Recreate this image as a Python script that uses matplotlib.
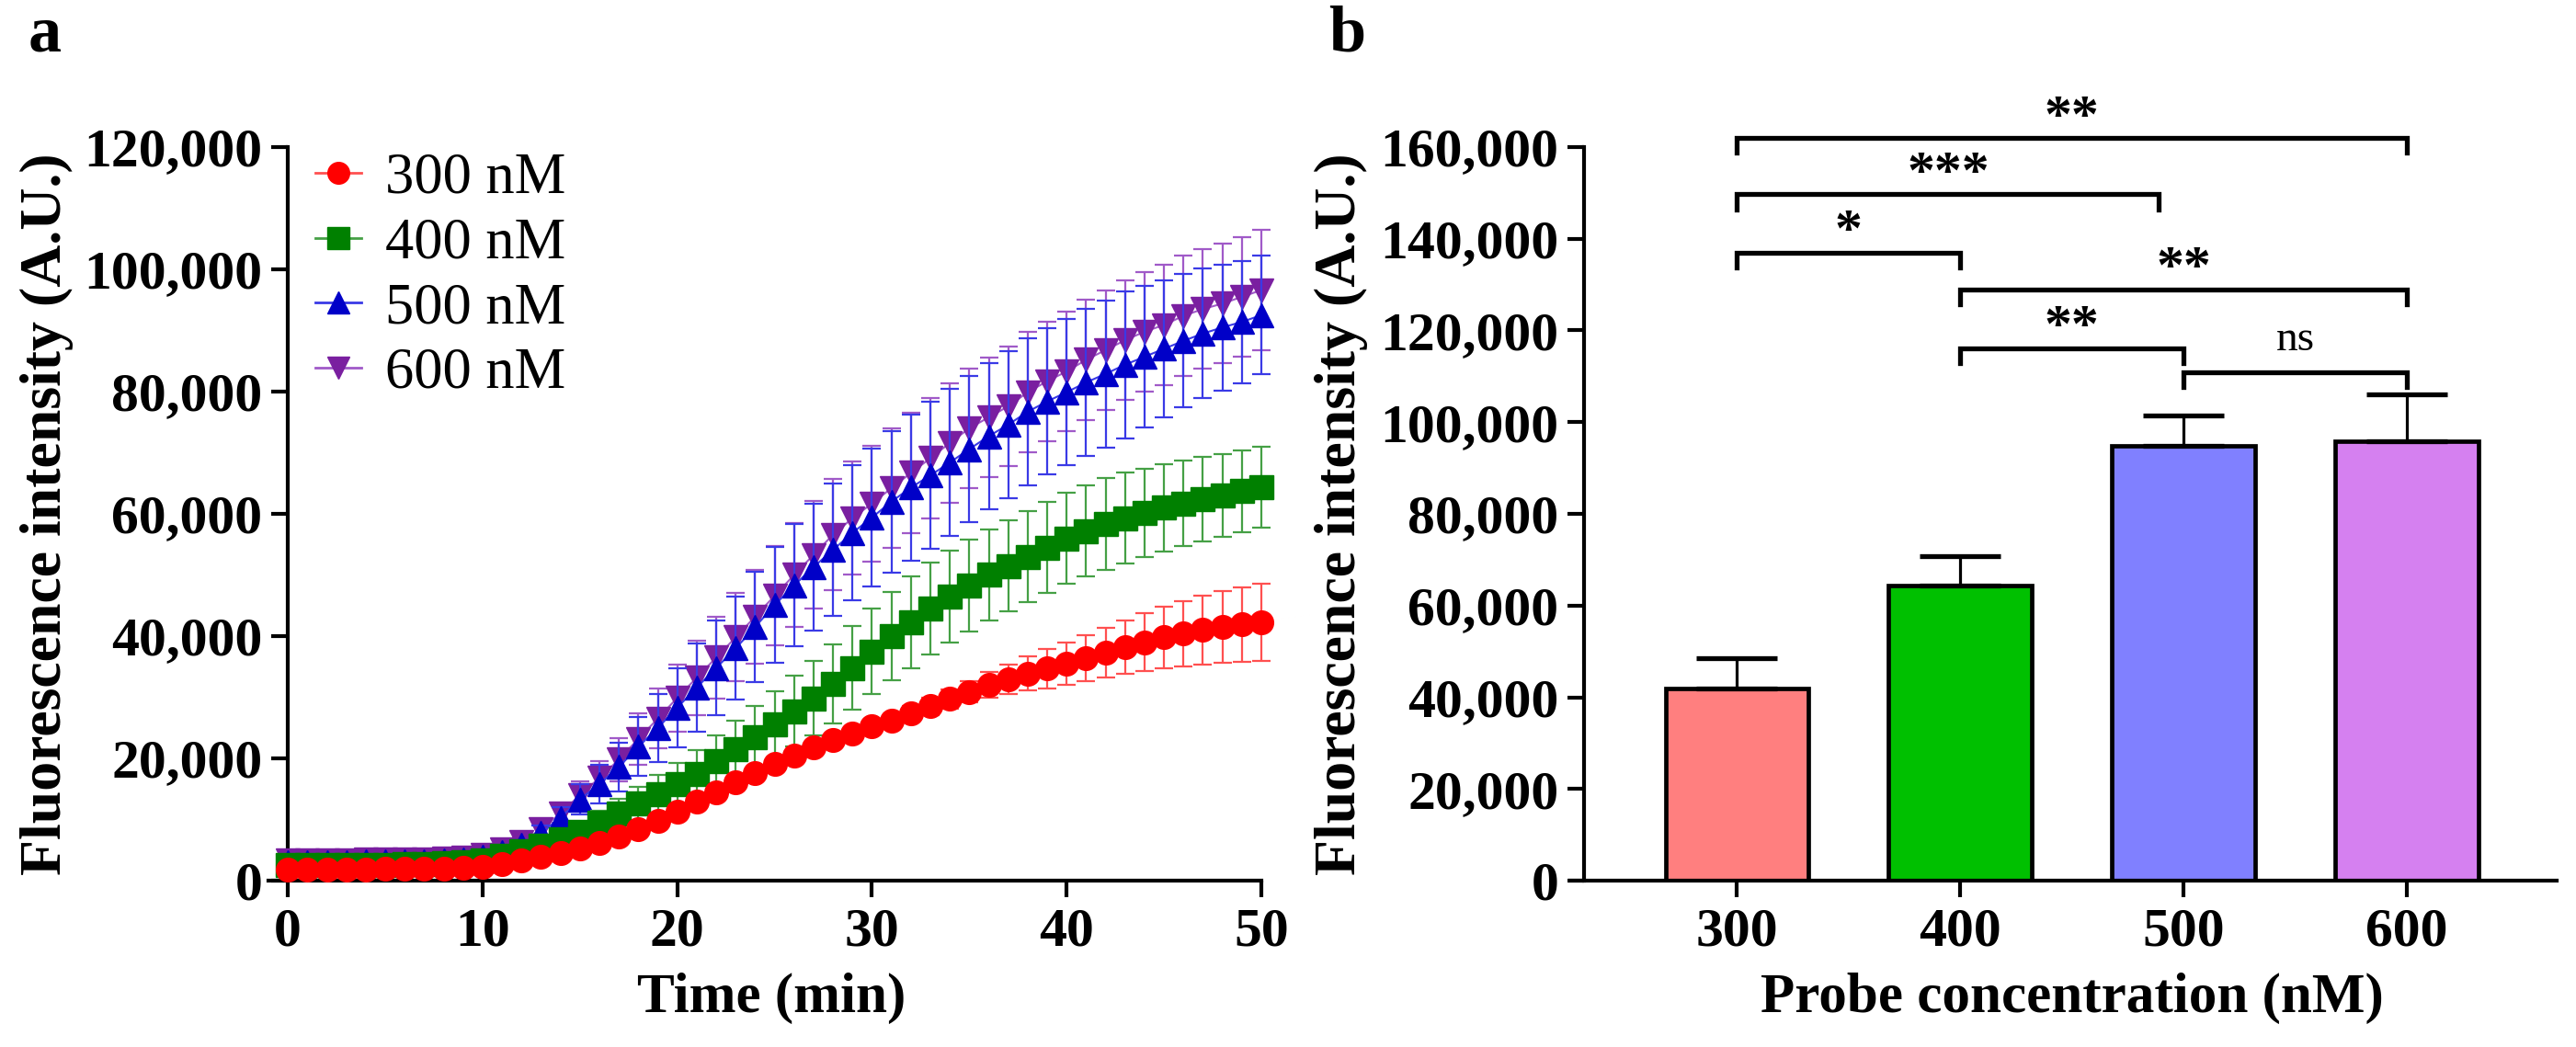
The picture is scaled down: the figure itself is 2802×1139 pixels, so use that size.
import numpy as np
import matplotlib
matplotlib.use('Agg')
import matplotlib.pyplot as plt
from matplotlib.ticker import FuncFormatter, MultipleLocator
from matplotlib.lines import Line2D

plt.rcParams['font.family'] = ['Liberation Serif', 'DejaVu Serif']
plt.rcParams['font.weight'] = 'bold'

# ---------------- data: panel a (kinetics) ----------------
time_min = list(range(0, 51))
series_labels = ['300 nM', '400 nM', '500 nM', '600 nM']

mean_300 = [1800, 1800, 1850, 1850, 1850, 1900, 1900, 1950, 2000, 2100,
            2300, 2700, 3300, 3900, 4500, 5300, 6200, 7200, 8400, 9800,
            11300, 12900, 14500, 16100, 17600, 19100, 20500, 21800, 23000, 24100,
            25200, 26200, 27300, 28500, 29700, 30900, 32000, 33000, 33900, 34700,
            35500, 36400, 37300, 38200, 39000, 39800, 40400, 41000, 41500, 41900,
            42300]
sd_300 = [300] * 10 + [400] * 10 + [600] * 10 + \
         [800, 1000, 1200, 1400, 1600, 1800, 2100, 2400, 2800, 3200,
          3500, 3800, 4100, 4400, 4700, 5000, 5300, 5600, 5800, 6100, 6300]

mean_400 = [2500, 2500, 2550, 2550, 2600, 2600, 2650, 2700, 2800, 3000,
            3300, 4000, 4800, 5700, 6800, 8000, 9500, 11000, 12600, 14200,
            15800, 17500, 19500, 21500, 23500, 25600, 27700, 29800, 32200, 34800,
            37500, 40000, 42300, 44500, 46500, 48300, 50000, 51500, 53000, 54500,
            56000, 57200, 58300, 59300, 60200, 61000, 61700, 62400, 63000, 63700,
            64400]
sd_400 = [400] * 12 + \
         [800, 1000, 1300, 1600, 2000, 2400, 2800, 3100, 3500, 3900,
          4300, 4600, 5000, 5400, 5800, 6100, 6500, 6800, 7000, 7200] + \
         [7500] * 11 + [7400, 7200, 7100, 7000, 6900, 6800, 6700, 6600]

mean_500 = [3000, 3000, 3050, 3050, 3100, 3100, 3150, 3200, 3300, 3500,
            3900, 4700, 5800, 7800, 10300, 13300, 15800, 18600, 21900, 25000,
            28300, 31600, 34800, 38000, 41500, 45100, 48300, 51300, 54100, 56900,
            59400, 62000, 64300, 66300, 68400, 70600, 72700, 74600, 76700, 78400,
            79900, 81500, 82900, 84400, 85700, 87000, 88300, 89500, 90500, 91400,
            92500]
sd_500 = [400] * 12 + \
         [800, 1200, 1800, 2500, 3200, 4000, 4800, 5600, 6500, 7200,
          7800, 8400, 9000, 9500, 10000, 10400, 10800, 11000, 11300, 11600] + \
         [12000] * 12 + [11600, 11200, 10900, 10600, 10300, 10000, 9700]

mean_600 = [3300, 3300, 3350, 3350, 3400, 3400, 3450, 3500, 3600, 3800,
            4200, 5100, 6300, 8400, 11000, 14000, 16800, 19800, 23200, 26500,
            29900, 33200, 36500, 39800, 43200, 46600, 50000, 53300, 56600, 59300,
            61700, 64200, 66700, 69100, 71600, 74000, 75800, 77600, 79900, 81700,
            83300, 85200, 86800, 88400, 89800, 90900, 92400, 93500, 94400, 95500,
            96600]
sd_600 = [400] * 12 + \
         [700, 1100, 1600, 2200, 2800, 3500, 4200, 4900, 5500, 6100,
          6700, 7200, 7700, 8100, 8500, 8800, 9100, 9300, 9500] + [9800] * 20

# ---------------- data: panel b (bars) ----------------
probe_conc = ['300', '400', '500', '600']
bar_mean = [42000, 64300, 94800, 95800]
bar_sd = [6600, 6500, 6700, 10200]

sig_left = [0, 0, 0, 1, 1, 2]
sig_right = [3, 1.89, 1, 3, 2, 3]
sig_y = [162000, 149700, 137000, 129000, 116100, 110900]
sig_text = ['**', '***', '*', '**', '**', 'ns']

# ---------------- styles ----------------
marker_col = ['#ff0000', '#008000', '#0000c8', '#7a1fa0']
err_col = ['#ff5050', '#45a045', '#3a3ae6', '#a05ac8']
markers = ['o', 's', '^', 'v']
bar_col = ['#ff7f7f', '#00c000', '#8080ff', '#d580f0']

TICK_FS = 43
LABEL_FS = 44
SPINE_W = 3.0

fig = plt.figure(figsize=(28.02, 11.39), dpi=100)
W, H = 2802.0, 1139.0

def fx(px):
    return px / W

def fy(py):
    return 1 - py / H

ax_bottom_px, ax_top_px = 958, 160

# ---------------- panel a ----------------
axa = fig.add_axes([fx(292), fy(ax_bottom_px), fx(1372) - fx(292), fy(ax_top_px) - fy(ax_bottom_px)])
means = [mean_300, mean_400, mean_500, mean_600]
sds = [sd_300, sd_400, sd_500, sd_600]
handles = []
# draw purple first, red last (red on top)
for k in [3, 2, 1, 0]:
    z = 3 + (3 - k) * 2
    axa.errorbar(time_min, means[k], yerr=sds[k], fmt='none', ecolor=err_col[k],
                 elinewidth=1.6, capsize=7, capthick=1.6, zorder=z, clip_on=False)
    axa.plot(time_min, means[k], color=err_col[k], lw=1.5, marker=markers[k],
             ms=18.5, mfc=marker_col[k], mec=marker_col[k], zorder=z + 1, clip_on=False)
for k in range(4):
    handles.append(Line2D([], [], color=err_col[k], lw=2, marker=markers[k], ms=17,
                          mfc=marker_col[k], mec=marker_col[k]))

axa.set_xlim(-1, 50)
axa.set_ylim(0, 120000)
axa.spines['left'].set_position(('data', 0))
axa.spines['left'].set_bounds(0, 120000)
axa.xaxis.set_major_locator(MultipleLocator(10))
axa.yaxis.set_major_locator(MultipleLocator(20000))
axa.yaxis.set_major_formatter(FuncFormatter(lambda v, p: f"{int(v):,}"))
axa.set_xlabel('Time (min)', fontsize=LABEL_FS, fontweight='bold')
axa.set_ylabel('Fluorescence intensity (A.U.)', fontsize=46, fontweight='bold')
axa.xaxis.set_label_coords(0.507, -0.125)
axa.yaxis.set_label_coords(-0.196, 0.5)
axa.legend(handles, series_labels, loc='upper left', bbox_to_anchor=(fx(343), fy(166)),
           bbox_transform=fig.transFigure, frameon=False, borderpad=0, borderaxespad=0,
           handlelength=0.8, handletextpad=0.42, labelspacing=0.2,
           prop={'family': 'Liberation Serif', 'size': 45, 'weight': 'normal'})

# ---------------- panel b ----------------
axb = fig.add_axes([fx(1708), fy(ax_bottom_px), fx(2781) - fx(1708), fy(ax_top_px) - fy(ax_bottom_px)])
xpos = np.arange(len(probe_conc))
axb.bar(xpos, bar_mean, width=0.64, color=bar_col, edgecolor='black', linewidth=3.4, zorder=2)
axb.errorbar(xpos, bar_mean, yerr=[np.zeros(len(bar_sd)), bar_sd], fmt='none', ecolor='black',
             elinewidth=2.3, capsize=32, capthick=3.8, zorder=3)
axb.set_xlim(-0.746, 3.67)
axb.set_ylim(0, 160000)
axb.spines['left'].set_position(('data', -0.683))
axb.set_xticks(xpos)
axb.set_xticklabels(probe_conc)
axb.yaxis.set_major_locator(MultipleLocator(20000))
axb.yaxis.set_major_formatter(FuncFormatter(lambda v, p: f"{int(v):,}"))
axb.set_xlabel('Probe concentration (nM)', fontsize=LABEL_FS, fontweight='bold')
axb.set_ylabel('Fluorescence intensity (A.U.)', fontsize=46, fontweight='bold')
axb.xaxis.set_label_coords(0.509, -0.125)
axb.yaxis.set_label_coords(-0.205, 0.5)

leg = 3300
for xl, xr, yy, tt in zip(sig_left, sig_right, sig_y, sig_text):
    axb.plot([xl, xl, xr, xr], [yy - leg, yy, yy, yy - leg], color='black', lw=3.8,
             solid_joinstyle='miter', clip_on=False, zorder=4)
    if tt == 'ns':
        axb.text((xl + xr) / 2, yy + 4800, tt, ha='center', va='baseline', fontsize=34,
                 fontweight='normal', clip_on=False)
    else:
        axb.text((xl + xr) / 2, yy + 1300, tt, ha='center', va='baseline', fontsize=43,
                 fontweight='bold', clip_on=False)

for ax in (axa, axb):
    for s in ('top', 'right'):
        ax.spines[s].set_visible(False)
    for s in ('left', 'bottom'):
        ax.spines[s].set_linewidth(SPINE_W)
    ax.tick_params(axis='both', which='major', direction='out', length=13, width=SPINE_W,
                   labelsize=TICK_FS)
    ax.tick_params(axis='x', pad=8)
    ax.tick_params(axis='y', pad=7)

fig.text(fx(31), fy(38), 'a', fontsize=52, fontweight='bold', ha='left', va='center')
fig.text(fx(1445), fy(38), 'b', fontsize=52, fontweight='bold', ha='left', va='center')

fig.savefig('out.png', dpi=100)
